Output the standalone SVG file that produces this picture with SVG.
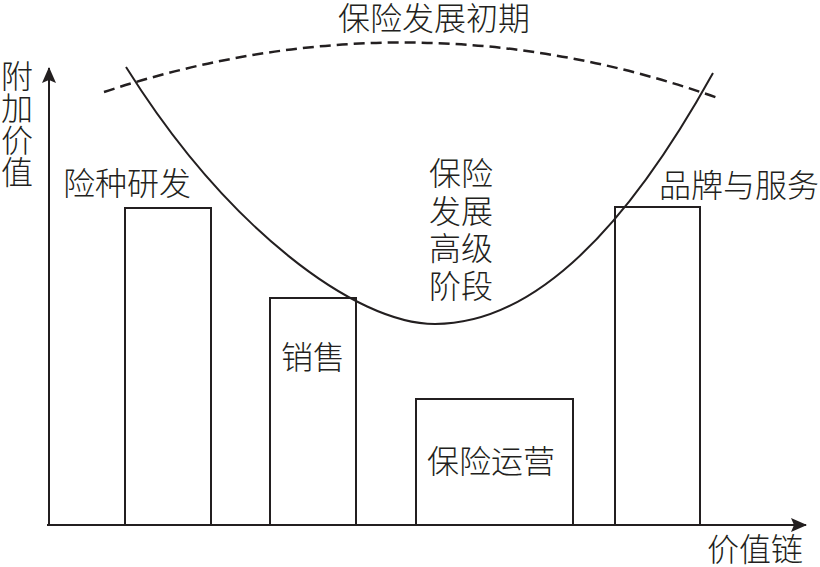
<svg xmlns="http://www.w3.org/2000/svg" width="820" height="567" viewBox="0 0 820 567">
<style>
.t{font-family:"Noto Sans CJK SC","Noto Sans",sans-serif;font-size:32px;font-weight:300;fill:#231f20;}
.v{writing-mode:vertical-rl;}
.bar{fill:none;stroke:#231f20;stroke-width:2;}
.ln{fill:none;stroke:#231f20;stroke-width:2;}
.dash{fill:none;stroke:#231f20;stroke-width:2.5;stroke-dasharray:11 6;}
</style>
<defs>
<marker id="arr" viewBox="0 0 16 14" refX="15" refY="7" markerWidth="16" markerHeight="14" markerUnits="userSpaceOnUse" orient="auto">
<path d="M0,0 L16,7 L0,14 L3,7 Z" fill="#231f20"/>
</marker>
</defs>
<rect width="820" height="567" fill="#ffffff"/>
<g id="connectors">
<line class="ln" x1="49" y1="526" x2="49" y2="68" marker-end="url(#arr)"/>
<line class="ln" x1="47" y1="525" x2="806" y2="525" marker-end="url(#arr)"/>
<path id="curve" class="ln" d="M126,67 C227,228 355,324 435,324 Q574,324 713,73"/>
<path id="early-arc" class="dash" d="M104,92 Q413,-10 718,98"/>
</g>
<g id="axis-y-label">
<text class="t v" x="17" y="60">附加价值</text>
</g>
<g id="axis-x-label"><text class="t" x="707" y="561">价值链</text></g>
<g id="title-early"><text class="t" x="434" y="30" text-anchor="middle">保险发展初期</text></g>
<g id="node-rd">
<rect class="bar" x="125" y="208" width="86" height="317"/>
<text class="t" x="63" y="195">险种研发</text>
</g>
<g id="node-sales">
<rect class="bar" x="270" y="298" width="86" height="227"/>
<text class="t" x="281" y="369">销售</text>
</g>
<g id="node-ops">
<rect class="bar" x="416" y="399" width="157" height="126"/>
<text class="t" x="427" y="473">保险运营</text>
</g>
<g id="node-brand">
<rect class="bar" x="615" y="207" width="85" height="318"/>
<text class="t" x="659" y="197">品牌与服务</text>
</g>
<g id="label-advanced">
<text class="t" x="429" y="185">保险</text>
<text class="t" x="429" y="223">发展</text>
<text class="t" x="429" y="260">高级</text>
<text class="t" x="429" y="298">阶段</text>
</g>
</svg>
